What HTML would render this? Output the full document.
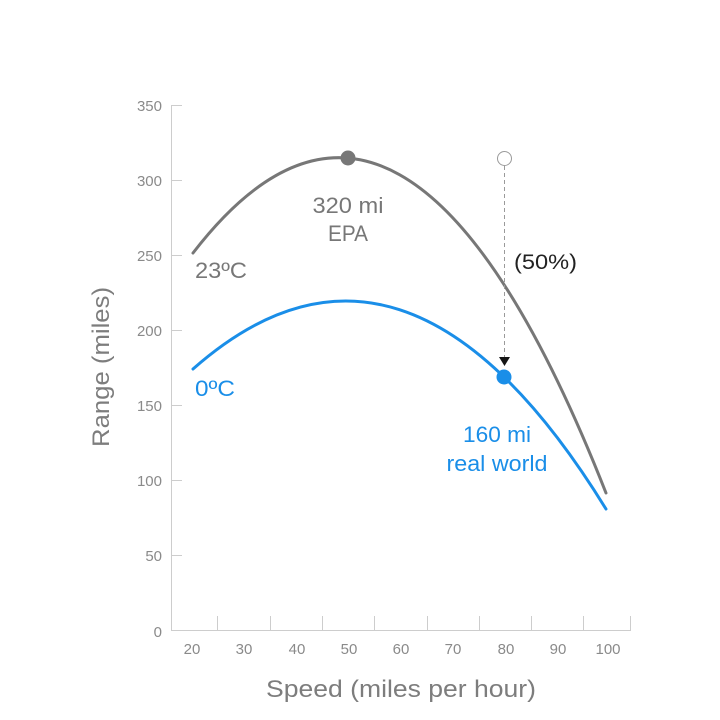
<!DOCTYPE html>
<html>
<head>
<meta charset="utf-8">
<style>
  html,body{margin:0;padding:0;background:#fff;}
  svg{display:block;}
  text{font-family:"Liberation Sans", "DejaVu Sans", sans-serif;}
</style>
</head>
<body>
<svg width="720" height="720" viewBox="0 0 720 720" xmlns="http://www.w3.org/2000/svg">
  <rect width="720" height="720" fill="#fff"/>

  <!-- Y axis -->
  <g stroke="#cdcdcd" stroke-width="1" fill="none">
    <line x1="171.5" y1="105" x2="171.5" y2="630"/>
    <line x1="171" y1="105.5" x2="182" y2="105.5"/>
    <line x1="171" y1="180.5" x2="182" y2="180.5"/>
    <line x1="171" y1="255.5" x2="182" y2="255.5"/>
    <line x1="171" y1="330.5" x2="182" y2="330.5"/>
    <line x1="171" y1="405.5" x2="182" y2="405.5"/>
    <line x1="171" y1="480.5" x2="182" y2="480.5"/>
    <line x1="171" y1="555.5" x2="182" y2="555.5"/>
    <!-- X axis -->
    <line x1="171" y1="630.5" x2="631" y2="630.5"/>
    <line x1="217.5" y1="616" x2="217.5" y2="630"/>
    <line x1="270.5" y1="616" x2="270.5" y2="630"/>
    <line x1="322.5" y1="616" x2="322.5" y2="630"/>
    <line x1="374.5" y1="616" x2="374.5" y2="630"/>
    <line x1="427.5" y1="616" x2="427.5" y2="630"/>
    <line x1="479.5" y1="616" x2="479.5" y2="630"/>
    <line x1="531.5" y1="616" x2="531.5" y2="630"/>
    <line x1="583.5" y1="616" x2="583.5" y2="630"/>
    <line x1="630.5" y1="616" x2="630.5" y2="630"/>
  </g>

  <!-- Y tick labels -->
  <g fill="#8a8a8a" font-size="15" text-anchor="end">
    <text x="162" y="111">350</text>
    <text x="162" y="186">300</text>
    <text x="162" y="261">250</text>
    <text x="162" y="336">200</text>
    <text x="162" y="411">150</text>
    <text x="162" y="486">100</text>
    <text x="162" y="561">50</text>
    <text x="162" y="637">0</text>
  </g>

  <!-- X tick labels -->
  <g fill="#8a8a8a" font-size="15" text-anchor="middle">
    <text x="192" y="654">20</text>
    <text x="244" y="654">30</text>
    <text x="297" y="654">40</text>
    <text x="349" y="654">50</text>
    <text x="401" y="654">60</text>
    <text x="453" y="654">70</text>
    <text x="506" y="654">80</text>
    <text x="558" y="654">90</text>
    <text x="608" y="654">100</text>
  </g>

  <!-- Axis titles -->
  <text x="401" y="697" font-size="24" fill="#7d7d7d" text-anchor="middle" textLength="270" lengthAdjust="spacingAndGlyphs">Speed (miles per hour)</text>
  <text transform="translate(109,367) rotate(-90)" font-size="24" fill="#7d7d7d" text-anchor="middle" textLength="160" lengthAdjust="spacingAndGlyphs">Range (miles)</text>

  <!-- Gray curve (23ºC) -->
  <path fill="none" stroke="#777777" stroke-width="3" stroke-linecap="round"
    d="M193,253 C330.67,74.33 468.33,142.76 606,493"/>

  <!-- Blue curve (0ºC) -->
  <path fill="none" stroke="#1a8ee8" stroke-width="3" stroke-linecap="round"
    d="M193,369 C330.67,247.54 468.33,285.59 606,509"/>

  <!-- Dashed drop line, hollow marker, arrow -->
  <line x1="504.5" y1="166" x2="504.5" y2="357" stroke="#9a9a9a" stroke-width="1" stroke-dasharray="4,3"/>
  <circle cx="504.5" cy="158.5" r="7" fill="#fff" stroke="#999" stroke-width="1"/>
  <polygon points="499,357 510,357 504.5,366" fill="#151515"/>

  <!-- Points -->
  <circle cx="348" cy="158" r="7.5" fill="#777777"/>
  <circle cx="504" cy="377" r="7.5" fill="#1a8ee8"/>

  <!-- Labels -->
  <g font-size="22" fill="#777777">
    <text x="195" y="278" textLength="52" lengthAdjust="spacingAndGlyphs">23ºC</text>
    <text x="348" y="213" text-anchor="middle" textLength="71" lengthAdjust="spacingAndGlyphs">320 mi</text>
    <text x="348" y="241" text-anchor="middle" textLength="40" lengthAdjust="spacingAndGlyphs">EPA</text>
  </g>
  <g font-size="22" fill="#1a8ee8">
    <text x="195" y="396" textLength="40" lengthAdjust="spacingAndGlyphs">0ºC</text>
    <text x="497" y="442" text-anchor="middle" textLength="68" lengthAdjust="spacingAndGlyphs">160 mi</text>
    <text x="497" y="471" text-anchor="middle" textLength="101" lengthAdjust="spacingAndGlyphs">real world</text>
  </g>
  <text x="514" y="269" font-size="21" fill="#222" textLength="63" lengthAdjust="spacingAndGlyphs">(50%)</text>
</svg>
</body>
</html>
